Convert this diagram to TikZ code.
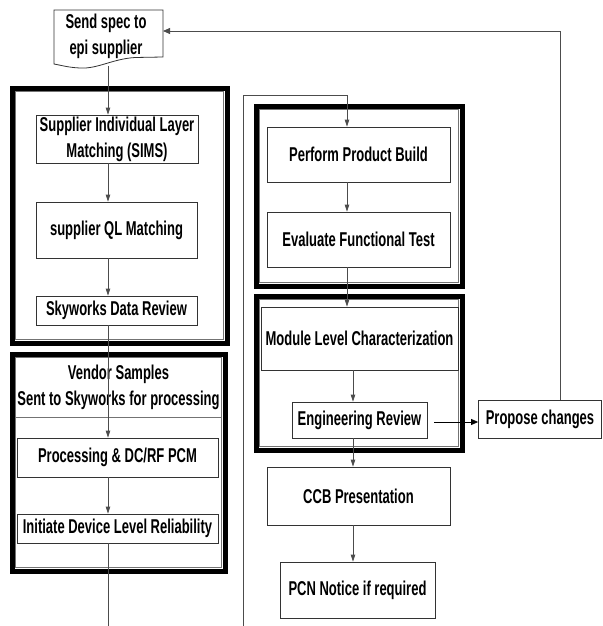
\documentclass[tikz,border=0pt]{standalone}
\usepackage{fontspec}
\setmainfont{Liberation Sans}[FakeStretch=0.65,UprightFont=*-Bold]
\usetikzlibrary{arrows.meta}
\begin{document}
\begin{tikzpicture}[x=1pt,y=-1pt,
  box/.style={draw=black!80, line width=0.8pt, fill=white, inner sep=0pt, align=center, font=\fontsize{20}{26}\selectfont},
  plain/.style={inner sep=0pt, align=center, font=\fontsize{20}{26}\selectfont},
  frame/.style={draw=black, line width=5pt},
  innerframe/.style={draw=black!55, line width=0.7pt},
  conn/.style={draw=black!70, line width=0.8pt},
  arr/.style={conn, -{Triangle[width=4.5pt,length=7pt]}},
  bigarr/.style={conn, -{Triangle[width=6pt,length=7pt]}}]
\useasboundingbox (0,0) rectangle (602,626);
% thick frames with thin inner line
\draw[frame] (12,88) rectangle (227,343);
\draw[innerframe] (15.8,91.8) rectangle (223.2,339.2);
\draw[frame] (12,354) rectangle (225,571);
\draw[innerframe] (15.8,357.8) rectangle (221.2,567.2);
\draw[frame] (256,106) rectangle (462,286);
\draw[innerframe] (259.8,109.8) rectangle (458.2,282.2);
\draw[frame] (256,296) rectangle (462,450);
\draw[innerframe] (259.8,299.8) rectangle (458.2,446.2);
% reference coordinates
\coordinate (L) at (108,0);
\coordinate (P) at (347,0);
\coordinate (Q) at (353,0);
\coordinate (specbot) at (108,66);
\coordinate (specR) at (163,31);
\coordinate (Lend) at (108,626);
\coordinate (Rbot) at (243,626);
\coordinate (Rtop) at (243,95);
\coordinate (F) at (560,31);
% header of vendor frame
\node[plain, minimum width=204, minimum height=59] (vend) at (118.5,387.5) {Vendor Samples\\Sent to Skyworks for processing};
\draw[innerframe] (15.8,417) -- (221.2,417);
% boxes
\path
  node[box, minimum width=162, minimum height=48] (sims) at (117,139) {Supplier Individual Layer\\Matching (SIMS)}
  node[box, minimum width=161, minimum height=56] (ql) at (116.5,230) {supplier QL Matching}
  node[box, minimum width=161, minimum height=29] (sdr) at (116.5,310.5) {Skyworks Data Review}
  node[box, minimum width=201, minimum height=39] (proc) at (117.5,457.5) {Processing \& DC/RF PCM}
  node[box, minimum width=201, minimum height=29] (idr) at (117.5,528.5) {Initiate Device Level Reliability}
  node[box, minimum width=183, minimum height=55] (ppb) at (358.5,154.5) {Perform Product Build}
  node[box, minimum width=183, minimum height=55] (eft) at (358.5,239.5) {Evaluate Functional Test}
  node[box, minimum width=197, minimum height=63] (mlc) at (359.5,338.5) {Module Level Characterization}
  node[box, minimum width=135, minimum height=36] (er) at (359.5,420) {Engineering Review}
  node[box, minimum width=123, minimum height=38] (pc) at (540,419) {Propose changes}
  node[box, minimum width=183, minimum height=58] (ccb) at (358.5,496) {CCB Presentation}
  node[box, minimum width=155, minimum height=56] (pcn) at (357.5,590) {PCN Notice if required};
% document shape for spec
\draw[draw=black!80, line width=0.8pt, fill=white] (54,64) -- (54,10) -- (163,10) -- (163,57) -- (135,57.5)
  .. controls (112,59) and (98,69) .. (80,68) .. controls (68,67.5) and (60,65) .. (54,64) -- cycle;
\node[plain] (spec) at (106,36) {Send spec to\\epi supplier};
% connectors
\draw[arr] (specbot) -- (sims.north -| specbot);
\draw[arr] (sims.south -| L) -- (ql.north -| L);
\draw[arr] (ql.south -| L) -- (sdr.north -| L);
\draw[arr] (sdr.south -| L) -- (proc.north -| L);
\draw[arr] (proc.south -| L) -- (idr.north -| L);
\draw[conn] (idr.south -| L) -- (Lend);
\draw[arr] (Rbot) -- (Rtop) -- (Rtop -| P) -- (ppb.north -| P);
\draw[arr] (ppb.south -| P) -- (eft.north -| P);
\draw[arr] (eft.south -| P) -- (mlc.north -| P);
\draw[arr] (mlc.south -| Q) -- (er.north -| Q);
\draw[arr] (er.south -| Q) -- (ccb.north -| Q);
\draw[arr] (ccb.south -| Q) -- (pcn.north -| Q);
\draw[bigarr, draw=black] ([xshift=7pt,yshift=-2pt]er.east) -- ([yshift=-2pt]er.east -| pc.west);
\draw[bigarr] (pc.north -| F) -- (F) -- (specR);
\end{tikzpicture}
\end{document}
